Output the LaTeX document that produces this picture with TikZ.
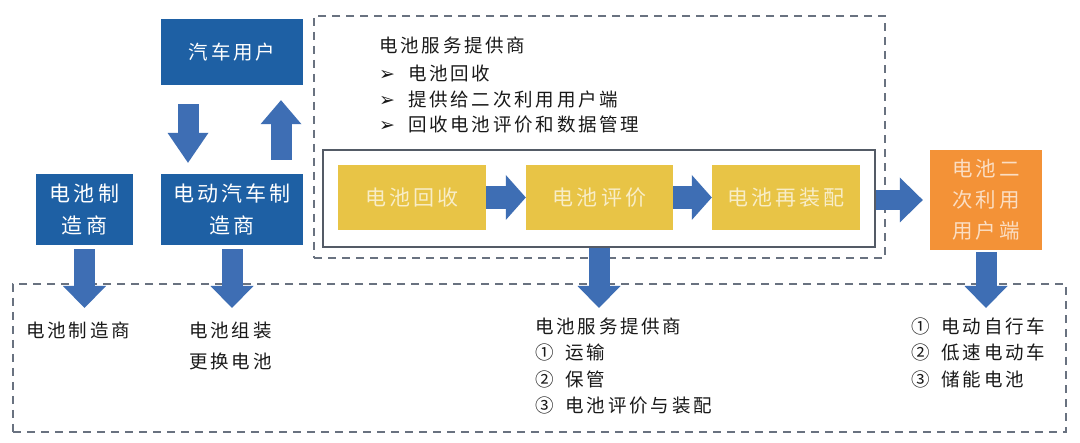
\documentclass[tikz,border=0pt]{standalone}
\usepackage{fontspec}
\setmainfont{Noto Sans CJK SC}[LetterSpace=15]
\newfontfamily\dingfont{DejaVu Sans}
\usetikzlibrary{arrows.meta}
\definecolor{B}{RGB}{30,96,164}
\definecolor{A}{RGB}{62,110,180}
\definecolor{Y}{RGB}{232,196,70}
\definecolor{O}{RGB}{243,146,55}
\definecolor{G}{RGB}{105,114,128}
\newcommand{\fatarrow}[2]{-{Triangle[width=#1,length=#2,line width=0pt]}}
\tikzset{
  bluebox/.style={fill=B, text=white, inner sep=0pt, align=center, font=\fontsize{21}{32}\selectfont},
  yellowbox/.style={fill=Y, text=Y!30, minimum width=148pt, minimum height=65pt, inner sep=0pt, font=\fontsize{21}{24}\selectfont},
  dashframe/.style={draw=G, line width=1.4pt, dash pattern=on 8pt off 6pt, inner sep=0pt},
  listtext/.style={anchor=west, inner sep=0pt, text=black!90, font=\fontsize{18.5}{24}\selectfont},
  blockarrow/.style={draw=A, line width=21pt, \fatarrow{43pt}{22pt}}
}
\begin{document}
\begin{tikzpicture}[x=1pt,y=-1pt]
\path[use as bounding box, fill=white] (0,0) rectangle (1080,443);
\node[dashframe, minimum width=571pt, minimum height=242pt] (provider) at (599.5,137) {};
\node[dashframe, minimum width=1053pt, minimum height=148pt] (usage) at (539.5,358) {};
\node[draw=G!80!black, line width=1.2pt, minimum width=552pt, minimum height=97pt, inner sep=0pt] (chain) at (599,198.5) {};
\node[bluebox, minimum width=142pt, minimum height=66pt, font=\fontsize{19.5}{24}\selectfont] (carUser) at (232,52) {汽车用户};
\node[bluebox, minimum width=97pt, minimum height=71pt] (batMaker) at (84.5,209.5) {电池制\\造商};
\node[bluebox, minimum width=142pt, minimum height=71pt] (evMaker) at (232,209.5) {电动汽车制\\造商};
\node[yellowbox] (recov) at (412,197.5) {电池回收};
\node[yellowbox, minimum width=147pt] (evalB) at (599.5,197.5) {电池评价};
\node[yellowbox] (reasm) at (786,197.5) {电池再装配};
\node[fill=O, text=O!30, minimum width=112pt, minimum height=100pt, inner sep=0pt, align=center, font=\fontsize{20.5}{31}\selectfont] (second) at (986,200) {电池二\\次利用\\用户端};
\node[listtext] (provTitle) at (379,45) {电池服务提供商};
\foreach \t [count=\i] in {电池回收,提供给二次利用用户端,回收电池评价和数据管理}
  \node[listtext] (provItem\i) at (379,47+26*\i) {{\dingfont\fontsize{19}{19}\selectfont ➢}\hspace{13pt}\t};
\node[listtext, anchor=center] (bmText) at (78,330) {电池制造商};
\node[listtext] (packA) at (189,331) {电池组装};
\node[listtext] (packB) at (189,361) {更换电池};
\node[listtext] (svcTitle) at (535,326) {电池服务提供商};
\foreach \n/\t [count=\i] in {①/运输,②/保管,③/电池评价与装配}
  \node[listtext] (svcItem\i) at (535,326+26.5*\i) {\n\hspace{12pt}\t};
\foreach \n/\t [count=\i] in {①/电动自行车,②/低速电动车,③/储能电池}
  \node[listtext] (useItem\i) at (911,299.5+26.5*\i) {\n\hspace{12pt}\t};
\coordinate (dnX) at (188,0);
\coordinate (upX) at (281,0);
\coordinate (tipY) at (0,308);
\draw[blockarrow, \fatarrow{41pt}{30pt}, shorten <=19pt, shorten >=11pt] (carUser.south -| dnX) -- (evMaker.north -| dnX);
\draw[blockarrow, \fatarrow{41pt}{24pt}, shorten <=14pt, shorten >=15pt] (evMaker.north -| upX) -- (carUser.south -| upX);
\draw[blockarrow, line width=23pt, \fatarrow{45pt}{20pt}] (recov.east) -- (evalB.west);
\draw[blockarrow, line width=23pt, \fatarrow{45pt}{20pt}] (evalB.east) -- (reasm.west);
\draw[blockarrow, line width=20pt, \fatarrow{45pt}{23pt}, shorten >=7pt] (chain.east |- second) -- (second.west);
\draw[blockarrow, shorten <=4pt] (batMaker.south) -- (batMaker.south |- tipY);
\draw[blockarrow, shorten <=4pt] (evMaker.south) -- (evMaker.south |- tipY);
\draw[blockarrow] (chain.south) -- (chain.south |- tipY);
\draw[blockarrow, shorten <=2pt] (second.south) -- (second.south |- tipY);
\end{tikzpicture}
\end{document}
